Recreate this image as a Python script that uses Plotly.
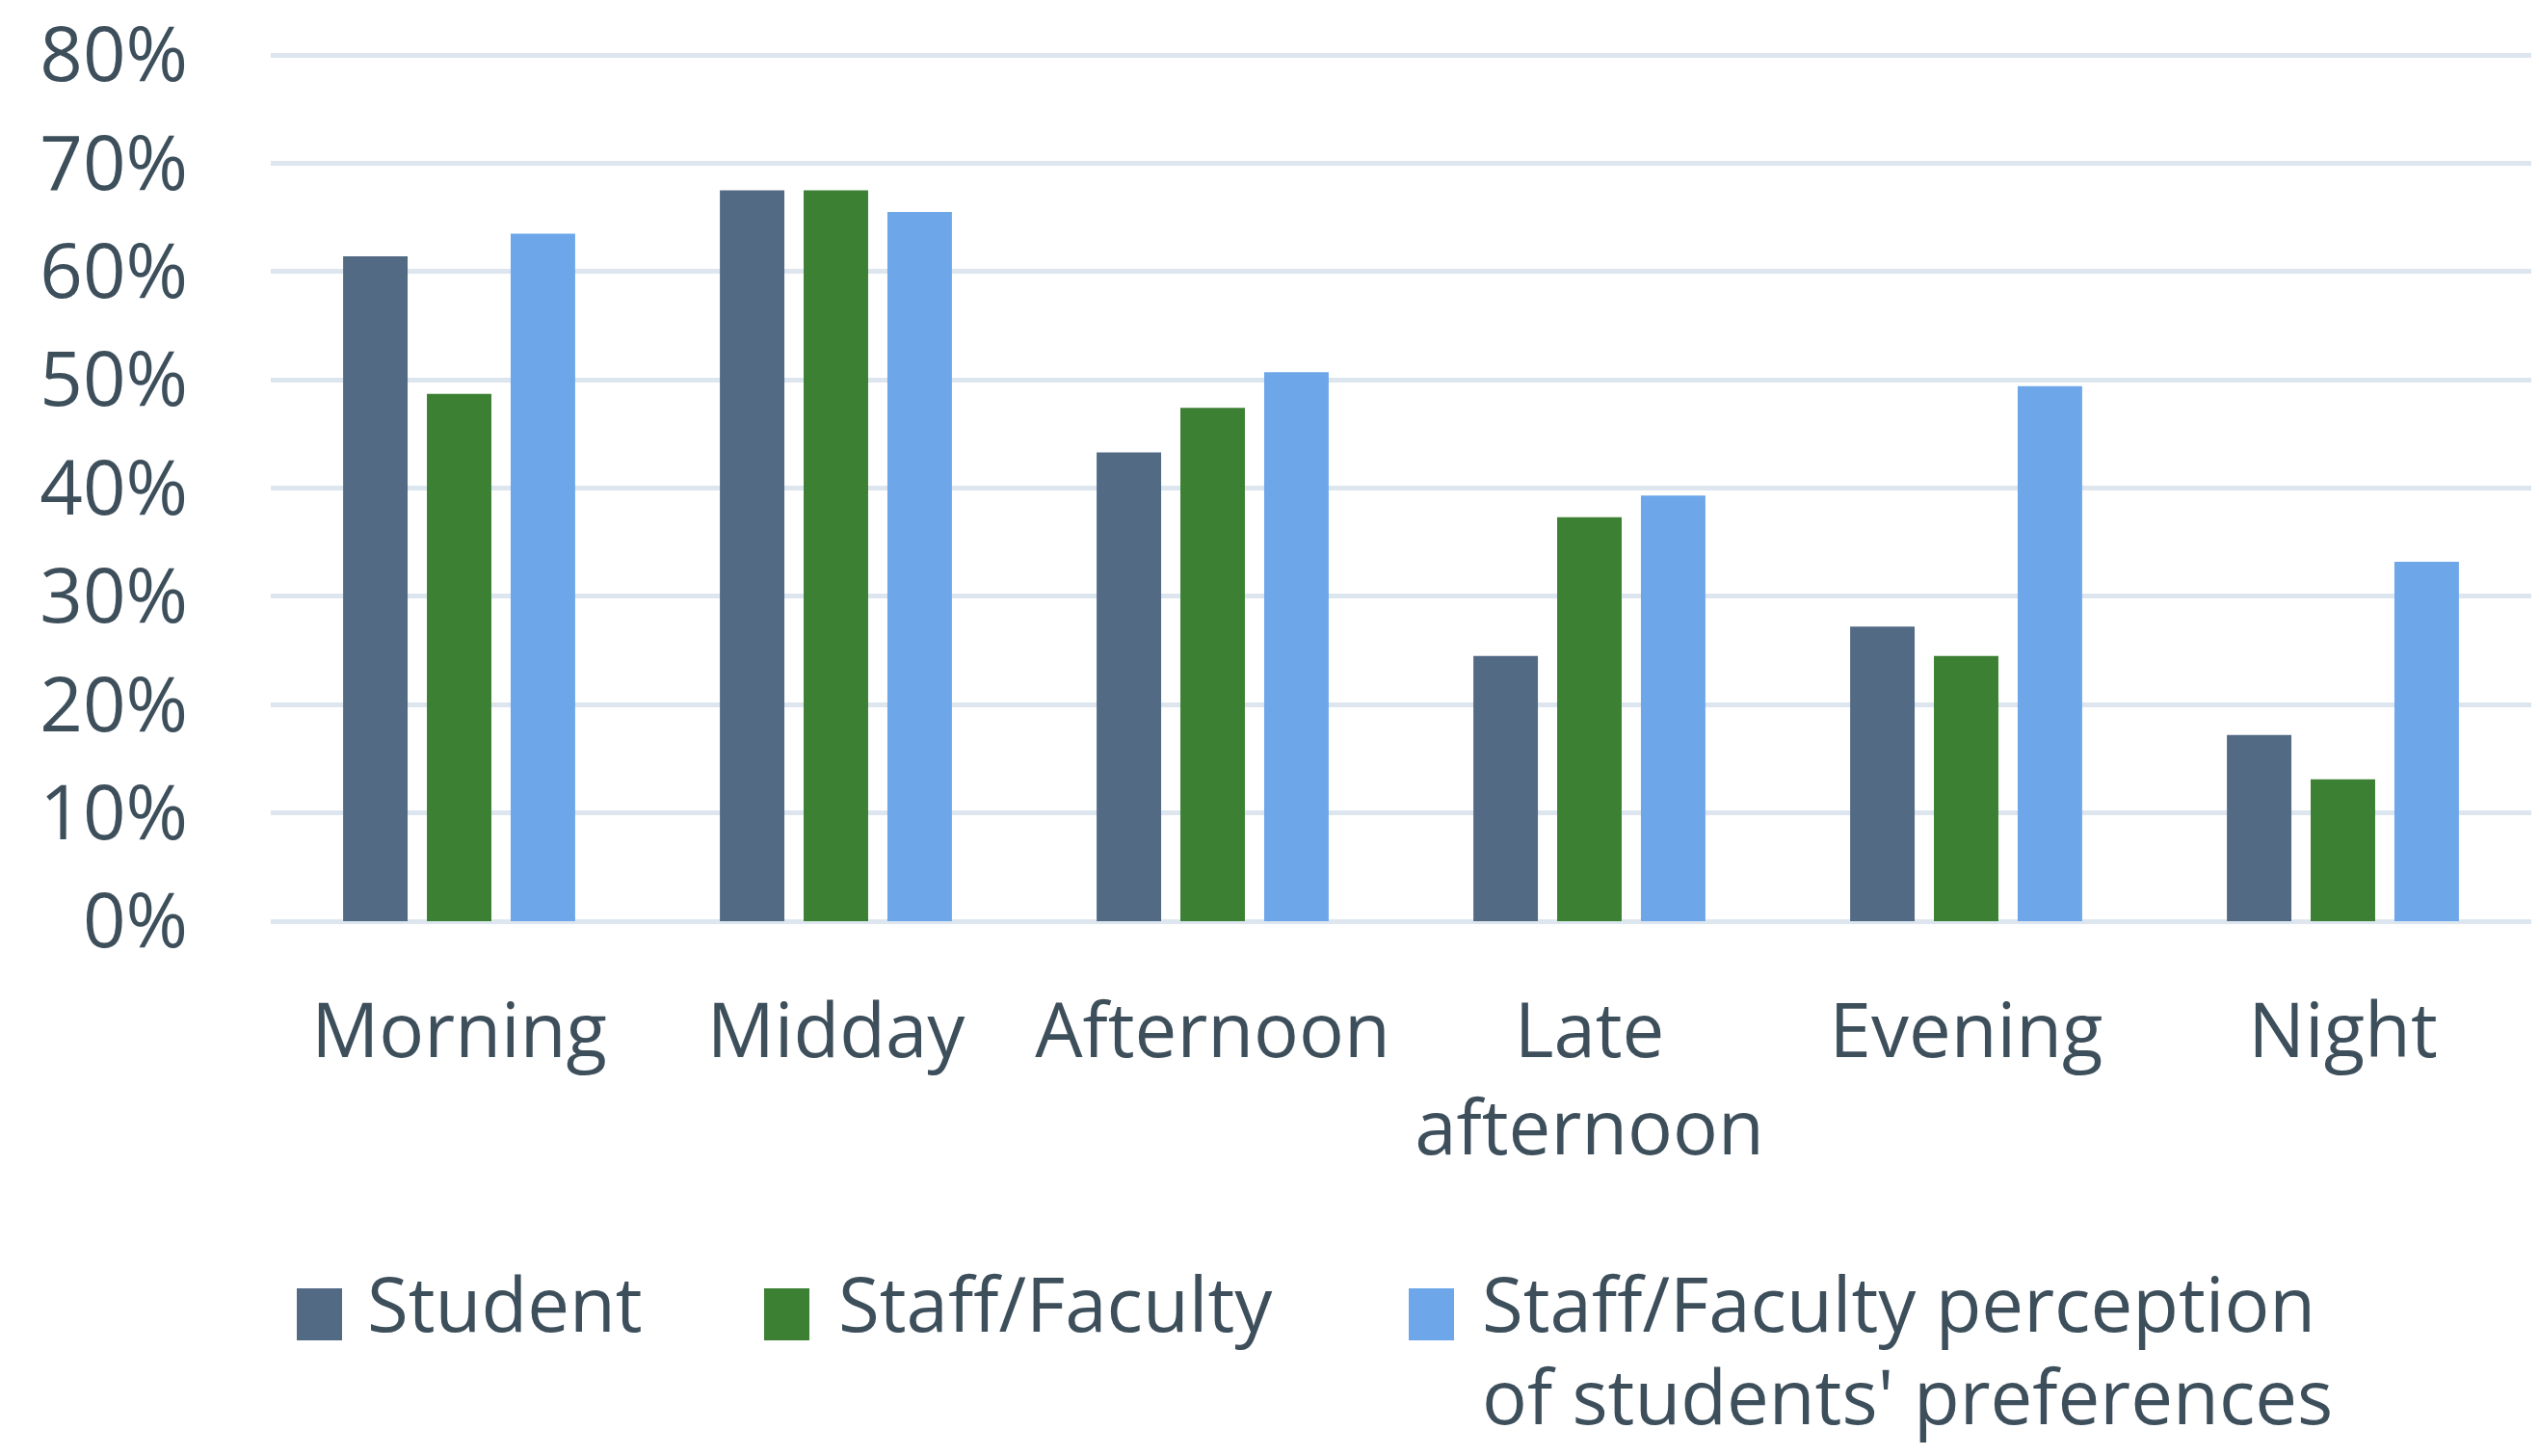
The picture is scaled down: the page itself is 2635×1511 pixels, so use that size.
import plotly.graph_objects as go

categories = ["Morning", "Midday", "Afternoon", "Late<br>afternoon", "Evening", "Night"]
student = [0.614, 0.675, 0.433, 0.245, 0.272, 0.172]
staff_faculty = [0.487, 0.675, 0.474, 0.373, 0.245, 0.131]
perception = [0.635, 0.655, 0.507, 0.393, 0.494, 0.332]
series_names = ["Student", "Staff/Faculty", "Staff/Faculty perception"]
series_names_line2 = ["", "", "of students' preferences"]
series_colors = ["#536A85", "#3C8033", "#6DA7EA"]
y_tick_vals = [0, 0.1, 0.2, 0.3, 0.4, 0.5, 0.6, 0.7, 0.8]

OFF = 8  # default page body margin
W, H = 2635 - 2 * OFF, 1511 - 2 * OFF
L, R, T, B = 281 - OFF, 0, 45, H - (956 - OFF)
PW, PH = W - L - R, H - T - B
Y_TOP = 0.8 * PH / (956 - 57)
FONT = "Open Sans"
TXT = "#3E4F5C"
GRID = "#DDE6EF"


def px_x(x):
    return (x - OFF - L) / PW


def px_y(y):
    return (H - B - (y - OFF)) / PH


fig = go.Figure()
for name, vals, col in zip(series_names, [student, staff_faculty, perception], series_colors):
    fig.add_trace(go.Bar(x=categories, y=vals, name=name, marker=dict(color=col, line=dict(width=0)),
                         showlegend=False))

fig.update_layout(
    width=W, height=H,
    margin=dict(l=L, r=R, t=T, b=B, pad=0, autoexpand=False),
    paper_bgcolor="white", plot_bgcolor="white",
    barmode="group", bargap=0.333, bargroupgap=0.23,
    font=dict(family=FONT, size=78, color=TXT),
    xaxis=dict(showgrid=False, showline=False, zeroline=False, ticks="", automargin=False,
               ticklabelstandoff=62, tickfont=dict(size=78, color=TXT)),
    yaxis=dict(range=[0, Y_TOP], tickvals=y_tick_vals, tickformat=".0%", automargin=False,
               showgrid=True, gridcolor=GRID, gridwidth=5,
               zeroline=True, zerolinecolor=GRID, zerolinewidth=5,
               showline=False, ticks="", ticklabelstandoff=85, ticklabeloverflow="allow",
               tickfont=dict(size=78, color=TXT)),
)

# legend drawn as swatches + labels
legend_x = [308, 793, 1462]
text_x = [379, 868, 1536]
for i, col in enumerate(series_colors):
    fig.add_shape(type="rect", xref="paper", yref="paper",
                  x0=px_x(legend_x[i]), x1=px_x(legend_x[i] + 47),
                  y0=px_y(1391), y1=px_y(1337),
                  fillcolor=col, line=dict(width=0))
    fig.add_annotation(xref="paper", yref="paper", x=px_x(text_x[i]), y=px_y(1352),
                       xanchor="left", yanchor="middle", align="left", showarrow=False,
                       text=series_names[i], font=dict(size=78, color=TXT, family=FONT))
    if series_names_line2[i]:
        fig.add_annotation(xref="paper", yref="paper", x=px_x(text_x[i]), y=px_y(1503),
                           xanchor="left", yanchor="bottom", align="left", showarrow=False,
                           text=series_names_line2[i], font=dict(size=78, color=TXT, family=FONT))

fig.write_html("out.html")
